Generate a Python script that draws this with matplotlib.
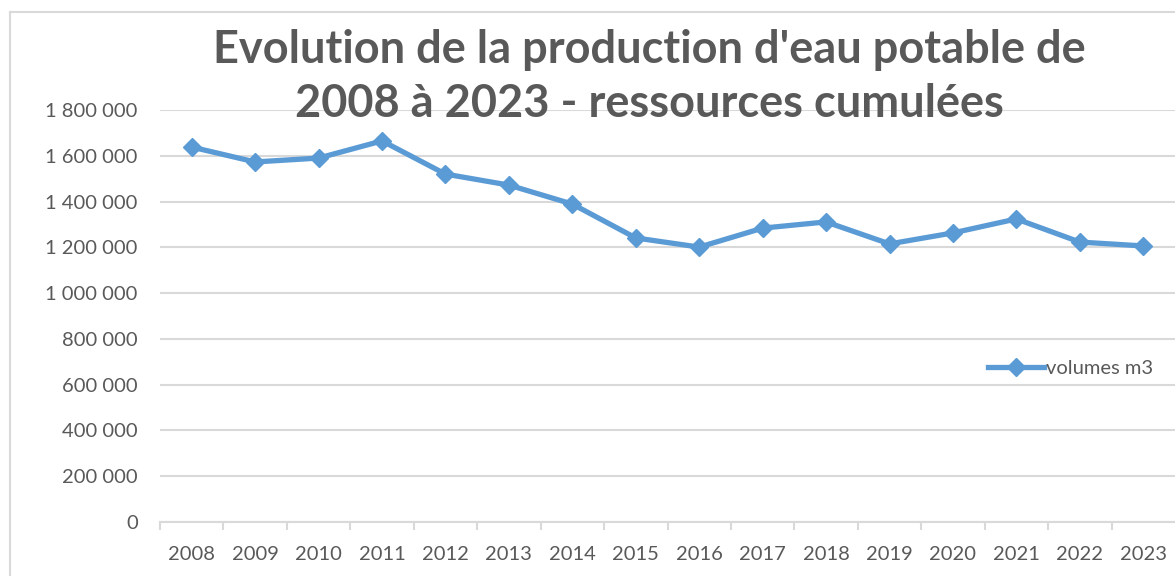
import matplotlib.pyplot as plt
from matplotlib.lines import Line2D
from matplotlib.ticker import FuncFormatter

# Données
annees = ["2008", "2009", "2010", "2011", "2012", "2013", "2014", "2015",
          "2016", "2017", "2018", "2019", "2020", "2021", "2022", "2023"]
volumes = [1638000, 1573000, 1590000, 1665000, 1520000, 1472000, 1389000, 1241000,
           1201000, 1284000, 1311000, 1215000, 1263000, 1324000, 1223000, 1206000]

bleu = "#5B9BD5"
gris = "#595959"
grille = "#D9D9D9"

plt.rcParams['font.family'] = ['Lato', 'DejaVu Sans']

fig = plt.figure(figsize=(11.75, 5.76), dpi=100)
ax = fig.add_axes([160 / 1175, 1 - 522 / 576, 1 - 160 / 1175, (522 - 110) / 576])

x = list(range(len(annees)))
ax.plot(x, volumes, color=bleu, lw=3.8, marker="D", markersize=9,
        label="volumes m3", zorder=3, clip_on=False)

ax.set_xlim(-0.5, len(annees) - 0.5)
ax.set_ylim(0, 1800000)
ax.set_yticks(range(0, 1800001, 200000))
ax.yaxis.set_major_formatter(FuncFormatter(lambda v, p: f"{int(v):,}".replace(",", " ")))
ax.set_xticks(x)
ax.set_xticklabels(annees)
ax.set_xticks([i + 0.5 for i in x[:-1]] + [-0.5], minor=True)

ax.grid(axis="y", color=grille, lw=1.5)
ax.set_axisbelow(True)
for s in ["top", "right", "left"]:
    ax.spines[s].set_visible(False)
ax.spines["bottom"].set_color(grille)
ax.spines["bottom"].set_linewidth(1.5)

ax.tick_params(axis="y", length=0, pad=16, labelsize=14.5, labelcolor=gris)
ax.tick_params(axis="x", which="major", length=0, pad=17, labelsize=14.5, labelcolor=gris)
ax.tick_params(axis="x", which="minor", length=6, width=1.5, color=grille)

leg = ax.legend(loc="center", bbox_to_anchor=(0.897, 0.372), frameon=False,
                fontsize=14.5, handlelength=2.8, handletextpad=0.1)
for t in leg.get_texts():
    t.set_color(gris)

fig.text(0.553, 1 - 77 / 576, "Evolution de la production d'eau potable de\n2008 à 2023 - ressources cumulées",
         ha="center", va="center", fontsize=32.5, fontweight="bold", color=gris,
         linespacing=1.33, zorder=5)

# cadre du graphique
fig.add_artist(Line2D([10 / 1175, 10 / 1175], [0, 1 - 12 / 576], color=grille, lw=1.5))
fig.add_artist(Line2D([10 / 1175, 1], [1 - 12 / 576, 1 - 12 / 576], color=grille, lw=1.5))

fig.savefig("out.png", dpi=100)
